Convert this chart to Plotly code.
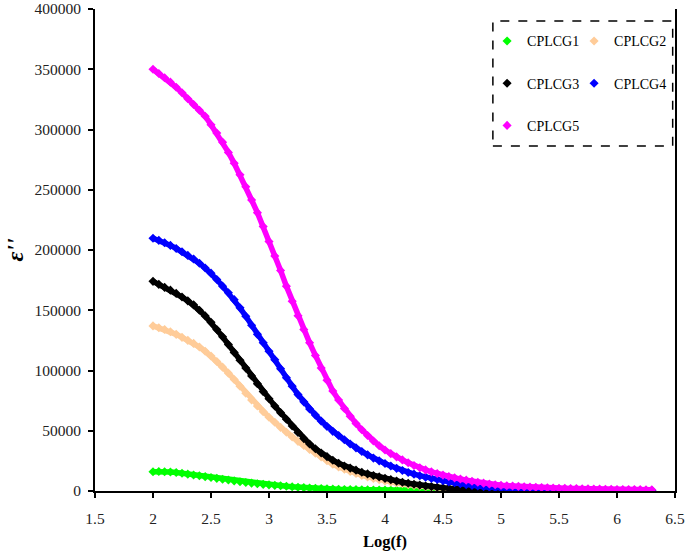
import plotly.graph_objects as go

# Log(f) sampling grid (step 0.05 from 2.00 to 6.30)
log_f = [round(2.0 + 0.05 * i, 2) for i in range(87)]

cplcg1 = [16000, 16200, 16000, 15800, 15300, 14700, 14000, 13300, 12600, 11900,
          11200, 10500, 9800, 9100, 8400, 7700, 7100, 6500, 6000, 5500,
          5100, 4700, 4300, 3900, 3500, 3100, 2800, 2500, 2200, 2000,
          1800, 1600, 1400, 1300, 1200, 1100, 1000, 900, 800, 750,
          700, 650, 600, 560, 520, 480, 450, 420, 390, 360,
          340, 320, 300, 280, 260, 240, 220, 200, 190, 180,
          170, 160, 150, 140, 130, 120, 110, 100, 95, 90,
          85, 80, 75, 70, 65, 60, 55, 50, 45, 40,
          38, 36, 34, 32, 30, 28, 26]

cplcg2 = [137000, 135500, 134000, 132200, 130000, 127500, 125000, 122500, 119500, 116000,
          112000, 107500, 102800, 97800, 92500, 87000, 81200, 75500, 70500, 65800,
          61200, 57000, 52800, 48800, 44800, 41200, 37800, 34500, 31300, 28300,
          25200, 22300, 20000, 18000, 16200, 14500, 13000, 11700, 10500, 9400,
          8400, 7500, 6700, 6000, 5300, 4700, 4100, 3600, 3100, 2700,
          2300, 2000, 1700, 1500, 1300, 1100, 1000, 900, 800, 700,
          650, 600, 560, 520, 490, 460, 430, 400, 380, 360,
          340, 320, 300, 290, 280, 270, 260, 250, 240, 230,
          220, 210, 200, 190, 180, 170, 160]

cplcg3 = [174000, 171500, 169000, 166700, 164000, 161000, 157800, 154500, 150000, 145300,
          140000, 134000, 128000, 121500, 115000, 108500, 102000, 95500, 89000, 82500,
          76500, 70500, 65000, 59500, 54000, 48500, 43500, 39000, 35000, 31500,
          28500, 25500, 23000, 20800, 19000, 17300, 15500, 14200, 12900, 11700,
          10500, 9400, 8200, 7300, 6400, 5600, 4900, 4200, 3600, 3100,
          2700, 2300, 2000, 1700, 1500, 1300, 1100, 1000, 900, 800,
          750, 700, 650, 600, 560, 520, 490, 460, 430, 400,
          380, 360, 340, 320, 300, 290, 280, 270, 260, 250,
          240, 230, 220, 210, 200, 190, 180]

cplcg4 = [209800, 208000, 206000, 203800, 201300, 198500, 195500, 192500, 189000, 185000,
          180800, 175500, 170000, 164500, 158800, 152000, 145000, 137500, 130000, 123000,
          116000, 109000, 101500, 94000, 87000, 80000, 74000, 68000, 63000, 58000,
          53500, 49500, 46000, 42500, 39000, 35800, 32800, 30000, 27300, 25000,
          22800, 20700, 18800, 17000, 15400, 14000, 12700, 11500, 10500, 9500,
          8500, 7600, 6800, 6000, 5300, 4700, 4100, 3600, 3200, 2800,
          2500, 2200, 2000, 1800, 1600, 1450, 1300, 1200, 1100, 1000,
          900, 850, 800, 750, 700, 650, 620, 590, 560, 530,
          500, 480, 460, 440, 420, 400, 380]

cplcg5 = [350000, 346500, 343000, 339300, 335000, 330500, 325500, 320700, 316000, 311000,
          304000, 297000, 289500, 281000, 272000, 262500, 252500, 241500, 231000, 219500,
          207000, 195000, 183000, 170000, 157500, 145500, 134000, 123000, 112500, 102000,
          92000, 83000, 75500, 68500, 62000, 56000, 50800, 46000, 41500, 37500,
          34000, 31000, 28300, 25800, 23400, 21200, 19300, 17500, 15900, 14500,
          13200, 12000, 10900, 9900, 9000, 8100, 7300, 6500, 5800, 5200,
          4700, 4400, 4100, 3800, 3500, 3300, 3100, 2900, 2700, 2500,
          2300, 2200, 2100, 2000, 1900, 1800, 1700, 1600, 1500, 1400,
          1300, 1250, 1200, 1150, 1100, 1050, 1000]

series = [
    ("CPLCG1", cplcg1, "#00FF00", "legend"),
    ("CPLCG2", cplcg2, "#FFCC99", "legend2"),
    ("CPLCG3", cplcg3, "#000000", "legend"),
    ("CPLCG4", cplcg4, "#0000FF", "legend2"),
    ("CPLCG5", cplcg5, "#FF00FF", "legend"),
]

x_ticks = [1.5, 2, 2.5, 3, 3.5, 4, 4.5, 5, 5.5, 6, 6.5]
y_ticks = [0, 50000, 100000, 150000, 200000, 250000, 300000, 350000, 400000]

SERIF = "Liberation Serif"

fig = go.Figure()
for name, vals, color, leg in series:
    # continuous band joining the dense measurement points
    fig.add_trace(go.Scatter(
        x=log_f, y=vals, name=name, mode="lines",
        line=dict(color=color, width=5.5),
        showlegend=False, legendgroup=name, hoverinfo="skip",
    ))
    # diamond markers (shown in legend)
    fig.add_trace(go.Scatter(
        x=log_f, y=vals, name=name, mode="markers",
        marker=dict(symbol="diamond", size=7, color=color),
        legend=leg, legendgroup=name,
    ))

leg_common = dict(
    orientation="v", bgcolor="rgba(0,0,0,0)", borderwidth=0,
    font=dict(family=SERIF, size=14, color="#000"),
    tracegroupgap=21, itemwidth=30, xanchor="left", yanchor="top",
)

fig.update_layout(
    width=685, height=551,
    margin=dict(l=95, r=10, t=9, b=60, autoexpand=False),
    paper_bgcolor="white", plot_bgcolor="white",
    showlegend=True,
    legend=dict(x=0.676, y=0.966, **leg_common),
    legend2=dict(x=0.826, y=0.966, **leg_common),
    xaxis=dict(
        range=[1.5, 6.5], tickvals=x_ticks, ticktext=[str(t) for t in x_ticks],
        showline=True, linecolor="black", linewidth=2, mirror=False,
        ticks="outside", ticklen=5, tickwidth=1.5, tickcolor="black",
        showgrid=False, zeroline=False, automargin=False,
        ticklabeloverflow="allow", ticklabelstandoff=7,
        tickfont=dict(family=SERIF, size=15.5, color="#222"),
        title=dict(text="<b>Log(f)</b>", font=dict(family=SERIF, size=16.5, color="#000"), standoff=10),
    ),
    yaxis=dict(
        range=[0, 400000], tickvals=y_ticks, ticktext=[str(t) for t in y_ticks],
        showline=True, linecolor="black", linewidth=2, mirror=True,
        ticks="outside", ticklen=5, tickwidth=1.5, tickcolor="black",
        showgrid=False, zeroline=False, automargin=False,
        ticklabeloverflow="allow",
        tickfont=dict(family=SERIF, size=15.5, color="#222"),
        ticklabelstandoff=4,
        title=dict(text="<b><i>ε''</i></b>", font=dict(family=SERIF, size=24, color="#000"), standoff=4),
    ),
    shapes=[dict(
        type="rect", xref="paper", yref="paper",
        x0=0.686, x1=0.996, y0=0.716, y1=0.975,
        line=dict(color="black", width=1.5, dash="dash"),
        fillcolor="rgba(0,0,0,0)",
    )],
)

fig.write_html("out.html", config={"displayModeBar": False},
               post_script="document.body.style.margin='0';")
